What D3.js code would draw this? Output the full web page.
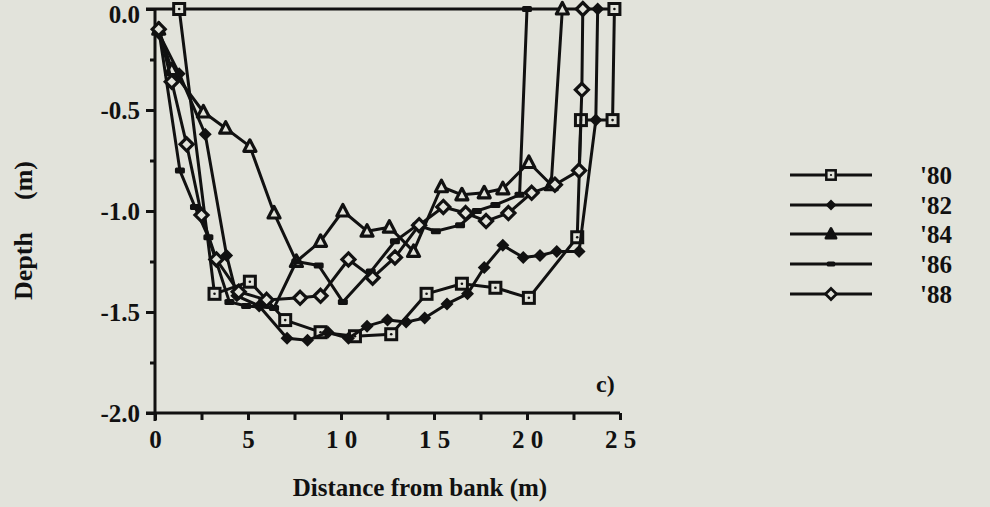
<!DOCTYPE html>
<html><head><meta charset="utf-8">
<script src="https://cdn.jsdelivr.net/npm/d3@7"></script>
<style>
body{margin:0;background:#e2e3db}
svg{display:block}
text{font-family:"Liberation Serif","Times New Roman",serif;font-weight:bold;fill:#111}
</style></head><body>
<svg id="c" width="990" height="507"></svg>
<script>
const xTickValues=[0,5,10,15,20,25];
const xTickLabels=["0","5","1 0","1 5","2 0","2 5"];
const yTickValues=[0,-0.5,-1,-1.5,-2];
const yTickLabels=["0.0","-0.5","-1.0","-1.5","-2.0"];
const years=["'80","'82","'84","'86","'88"];
const markers=["square","diamond","triangle","dash","odiamond"];
const d80=[[1.3,0],[3.2,-1.41],[5.1,-1.35],[7.0,-1.54],[8.9,-1.60],[10.75,-1.62],[12.7,-1.61],[14.6,-1.41],[16.5,-1.36],[18.3,-1.38],[20.1,-1.43],[22.7,-1.13],[22.9,-0.55],[24.6,-0.55],[24.7,0]];
const d82=[[0.2,-0.12],[1.3,-0.32],[2.7,-0.62],[3.85,-1.22],[4.4,-1.42],[5.6,-1.47],[7.1,-1.63],[8.2,-1.64],[9.3,-1.60],[10.4,-1.63],[11.4,-1.57],[12.5,-1.54],[13.5,-1.55],[14.5,-1.53],[15.7,-1.46],[16.8,-1.41],[17.7,-1.28],[18.7,-1.17],[19.8,-1.23],[20.7,-1.22],[21.6,-1.20],[22.8,-1.20],[23.7,-0.55],[23.8,0]];
const d84=[[0.2,-0.1],[0.9,-0.3],[2.6,-0.51],[3.8,-0.59],[5.1,-0.68],[6.4,-1.01],[7.6,-1.25],[8.9,-1.15],[10.1,-1.00],[11.4,-1.10],[12.6,-1.08],[13.9,-1.20],[15.4,-0.88],[16.5,-0.92],[17.7,-0.91],[18.7,-0.89],[20.1,-0.76],[21.3,-0.87],[21.9,0]];
const d86=[[0.2,-0.1],[1.34,-0.80],[2.15,-0.98],[2.87,-1.13],[4.0,-1.45],[4.9,-1.47],[6.4,-1.48],[7.6,-1.25],[8.8,-1.27],[10.1,-1.45],[11.6,-1.30],[12.9,-1.15],[14.1,-1.07],[15.1,-1.10],[16.4,-1.07],[17.3,-1.00],[18.3,-0.97],[19.6,-0.92],[20.0,0]];
const d88=[[0.2,-0.1],[0.9,-0.36],[1.7,-0.67],[2.5,-1.02],[3.3,-1.24],[4.5,-1.40],[6.0,-1.44],[7.8,-1.43],[8.9,-1.42],[10.4,-1.24],[11.7,-1.33],[12.9,-1.23],[14.2,-1.07],[15.5,-0.98],[16.7,-1.01],[17.8,-1.05],[19.0,-1.01],[20.25,-0.91],[21.5,-0.87],[22.8,-0.80],[22.95,-0.40],[23.0,0]];
const seriesData=[d80,d82,d84,d86,d88];

const svg=d3.select("#c");
const ink="#111";
const bg="#e2e3db";
const x=d3.scaleLinear().domain([0,25]).range([155,620]);
const y=d3.scaleLinear().domain([0,-2]).range([9,413]);

svg.append("line").attr("x1",146).attr("x2",x(25)).attr("y1",y(0)).attr("y2",y(0)).attr("stroke",ink).attr("stroke-width",3);

const xMinor=d3.range(0,25.01,2.5);
const gx=svg.append("g").attr("transform",`translate(0,${y(-2)})`)
  .call(d3.axisBottom(x).tickValues(xMinor).tickSize(7).tickSizeOuter(0)
  .tickFormat(v=>{const i=xTickValues.indexOf(v);return i>=0?xTickLabels[i]:"";}));
gx.select(".domain").attr("d",`M146,0H${x(25)}`).attr("stroke",ink).attr("stroke-width",3);
gx.selectAll(".tick line").attr("stroke",ink).attr("stroke-width",3);
gx.selectAll(".tick text").attr("font-size",25).attr("dy","1.0em").attr("fill",ink).style("white-space","pre");

const yMinor=d3.range(0,-2.01,-0.25);
const gy=svg.append("g").attr("transform",`translate(${x(0)},0)`)
  .call(d3.axisLeft(y).tickValues(yMinor).tickSize(5).tickSizeOuter(0)
  .tickFormat(v=>{const i=yTickValues.findIndex(t=>Math.abs(t-v)<1e-9);return i>=0?yTickLabels[i]:"";}));
gy.select(".domain").attr("d",`M0,${y(0)}V${y(-2)+8}`).attr("stroke",ink).attr("stroke-width",3);
gy.selectAll(".tick line").attr("stroke",ink).attr("stroke-width",3)
  .attr("x2",v=>yTickValues.some(t=>Math.abs(t-v)<1e-9)?-9:-5);
gy.selectAll(".tick text").attr("font-size",25).attr("x",-15).attr("fill",ink)
  .attr("dy",v=>Math.abs(v)<1e-9?"0.55em":"0.32em");

svg.append("text").attr("x",420).attr("y",496).attr("text-anchor","middle").attr("font-size",25).text("Distance from bank (m)");
svg.append("text").attr("transform","translate(32,300) rotate(-90)").attr("font-size",26).text("Depth");
svg.append("text").attr("transform","translate(32,200) rotate(-90)").attr("font-size",26).text("(m)");
svg.append("text").attr("x",596).attr("y",392).attr("font-size",24).text("c)");

function drawMarker(g,type,cx,cy,s,legend){
  s=s||1;
  if(type==="square"){
    const h=5.5*s;
    g.append("rect").attr("x",cx-h).attr("y",cy-h).attr("width",2*h).attr("height",2*h).attr("fill",bg).attr("stroke",ink).attr("stroke-width",3*s);
    g.append("circle").attr("cx",cx).attr("cy",cy).attr("r",1.3*s).attr("fill",ink);
  }else if(type==="diamond"){
    const h=6.5*s;
    g.append("path").attr("d",`M${cx},${cy-h}L${cx+h},${cy}L${cx},${cy+h}L${cx-h},${cy}Z`).attr("fill",ink);
  }else if(type==="triangle"){
    g.append("path").attr("d",`M${cx},${cy-6.5*s}L${cx+6*s},${cy+5*s}L${cx-6*s},${cy+5*s}Z`).attr("fill",legend?ink:bg).attr("stroke",ink).attr("stroke-width",3.2*s).attr("stroke-linejoin","round");
  }else if(type==="dash"){
    g.append("rect").attr("x",cx-5*s).attr("y",cy-3*s).attr("width",10*s).attr("height",6*s).attr("fill",ink).attr("rx",1.5);
  }else{
    const h=6.5*s;
    g.append("path").attr("d",`M${cx},${cy-h}L${cx+h},${cy}L${cx},${cy+h}L${cx-h},${cy}Z`).attr("fill",bg).attr("stroke",ink).attr("stroke-width",3.2*s);
  }
}

const line=d3.line().x(d=>x(d[0])).y(d=>y(d[1]));
seriesData.forEach((data,i)=>{
  const g=svg.append("g");
  g.append("path").datum(data).attr("d",line).attr("fill","none").attr("stroke",ink).attr("stroke-width",3).attr("stroke-linejoin","round");
  data.forEach(p=>drawMarker(g,markers[i],x(p[0]),y(p[1]),1,false));
});

const legY=[175,205,234,264,294];
years.forEach((yr,i)=>{
  const g=svg.append("g");
  g.append("line").attr("x1",790).attr("x2",872).attr("y1",legY[i]).attr("y2",legY[i]).attr("stroke",ink).attr("stroke-width",3);
  drawMarker(g,markers[i],831,legY[i],0.85,true);
  g.append("text").attr("x",920).attr("y",legY[i]+9).attr("font-size",25).text(yr);
});
</script></body></html>
